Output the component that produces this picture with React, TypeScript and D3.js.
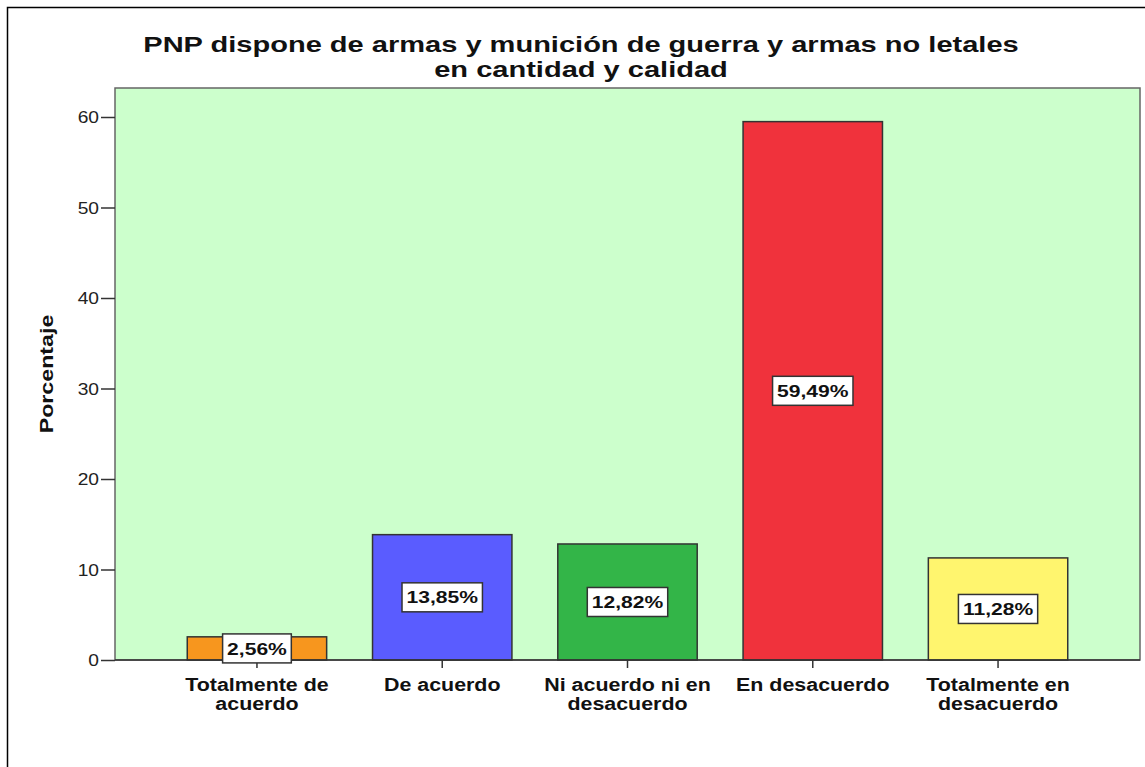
import React, { useEffect, useRef } from 'react';
import * as d3 from 'd3';

const categories = [
  ['Totalmente de', 'acuerdo'],
  ['De acuerdo'],
  ['Ni acuerdo ni en', 'desacuerdo'],
  ['En desacuerdo'],
  ['Totalmente en', 'desacuerdo'],
];
const percentages = [2.56, 13.85, 12.82, 59.49, 11.28];
const barColors = ['#F7961E', '#5A5CFF', '#33B548', '#F0323C', '#FFF56E'];
const yTicks = [0, 10, 20, 30, 40, 50, 60];
const titleLines = [
  'PNP dispone de armas y munición de guerra y armas no letales',
  'en cantidad y calidad',
];

const width = 1145, height = 767;
const plot = { left: 115, right: 1140, top: 88, bottom: 660 };

function App() {
  const ref = useRef<SVGSVGElement>(null);

  useEffect(() => {
    const svg = d3.select(ref.current);
    svg.selectAll('*').remove();
    const font = 'Arial, "Liberation Sans", sans-serif';

    svg.append('rect')
      .attr('width', width).attr('height', height).attr('fill', '#fff');

    // outer frame
    svg.append('rect')
      .attr('x', 7.5).attr('y', 7.5)
      .attr('width', 1300).attr('height', 1000)
      .attr('fill', 'none').attr('stroke', '#000').attr('stroke-width', 1.5);

    const keys = categories.map((c) => c.join(' '));

    const x = d3.scaleBand()
      .domain(keys)
      .range([plot.left, plot.right])
      .paddingInner(0.2476)
      .paddingOuter(0.39);

    const y = d3.scaleLinear()
      .domain([0, 60])
      .range([plot.bottom, 117]);

    svg.append('rect')
      .attr('x', plot.left).attr('y', plot.top)
      .attr('width', plot.right - plot.left).attr('height', plot.bottom - plot.top)
      .attr('fill', '#CCFFCC').attr('stroke', '#666').attr('stroke-width', 1.5);

    // title (source image is stretched horizontally, so text is scaled in x)
    svg.append('g').selectAll('g')
      .data(titleLines)
      .join('g')
      .attr('transform', (d, i) => `translate(581,${52 + i * 25}) scale(1.32,1)`)
      .append('text')
      .attr('text-anchor', 'middle')
      .attr('font-family', font).attr('font-weight', 'bold').attr('font-size', 22)
      .attr('fill', '#111')
      .text((d) => d);

    // bars
    svg.append('g').selectAll('rect')
      .data(percentages)
      .join('rect')
      .attr('x', (d, i) => x(keys[i])!)
      .attr('y', (d) => y(d))
      .attr('width', x.bandwidth())
      .attr('height', (d) => y(0) - y(d))
      .attr('fill', (d, i) => barColors[i])
      .attr('stroke', '#333').attr('stroke-width', 1.5);

    // y axis
    const yAxis = d3.axisLeft(y).tickValues(yTicks).tickSize(14).tickPadding(2).tickFormat(() => '');
    const gy = svg.append('g')
      .attr('transform', `translate(${plot.left},0)`)
      .call(yAxis);
    gy.select('.domain').remove();
    gy.selectAll('.tick line').attr('stroke', '#333').attr('stroke-width', 1.5);
    gy.selectAll('.tick')
      .append('g')
      .attr('transform', 'translate(-16,0) scale(1.2,1)')
      .append('text')
      .attr('text-anchor', 'end')
      .attr('dy', '0.36em')
      .attr('font-family', font).attr('font-size', 16).attr('fill', '#222')
      .text((d: any) => String(d));

    // x axis
    const xAxis = d3.axisBottom(x).tickSize(8).tickFormat(() => '');
    const gx = svg.append('g')
      .attr('transform', `translate(0,${plot.bottom})`)
      .call(xAxis);
    gx.select('.domain').attr('stroke', '#333').attr('stroke-width', 1.5)
      .attr('d', `M${plot.left},0H${plot.right}`);
    gx.selectAll('.tick line').attr('stroke', '#333').attr('stroke-width', 1.5);

    svg.append('g').selectAll('g')
      .data(categories)
      .join('g')
      .attr('transform', (d, i) => `translate(${x(keys[i])! + x.bandwidth() / 2},691) scale(1.19,1)`)
      .append('text')
      .attr('text-anchor', 'middle')
      .attr('font-family', font).attr('font-weight', 'bold').attr('font-size', 18)
      .attr('fill', '#111')
      .each(function (d) {
        d3.select(this).selectAll('tspan')
          .data(d)
          .join('tspan')
          .attr('x', 0)
          .attr('dy', (t, j) => (j === 0 ? 0 : 19))
          .text((t) => t);
      });

    // y title
    svg.append('g')
      .attr('transform', 'translate(53,374) rotate(-90) scale(1.29,1)')
      .append('text')
      .attr('text-anchor', 'middle')
      .attr('font-family', font).attr('font-weight', 'bold').attr('font-size', 18)
      .attr('fill', '#111')
      .text('Porcentaje');

    // value labels
    const sx = 1.24;
    const labels = svg.append('g').selectAll('g')
      .data(percentages)
      .join('g')
      .attr('transform', (d, i) => `translate(${x(keys[i])! + x.bandwidth() / 2},${y(d / 2)})`);
    const inner = labels.append('g').attr('transform', `scale(${sx},1)`);
    inner.append('text')
      .attr('text-anchor', 'middle')
      .attr('dy', '0.36em')
      .attr('font-family', font).attr('font-weight', 'bold').attr('font-size', 17)
      .attr('fill', '#111')
      .text((d) => d.toFixed(2).replace('.', ',') + '%');
    labels.each(function () {
      const g = d3.select(this);
      const t = g.select('text').node() as SVGTextElement;
      const b = t.getBBox();
      const w = b.width * sx + 9;
      g.insert('rect', 'g')
        .attr('x', -w / 2).attr('y', -14.5)
        .attr('width', w).attr('height', 29)
        .attr('fill', '#fff').attr('stroke', '#333').attr('stroke-width', 1.5);
    });
  }, []);

  return (
    <div style={{ position: 'absolute', left: 0, top: 0 }}>
      <svg ref={ref} width={width} height={height} style={{ display: 'block' }} />
    </div>
  );
}

export default App;
